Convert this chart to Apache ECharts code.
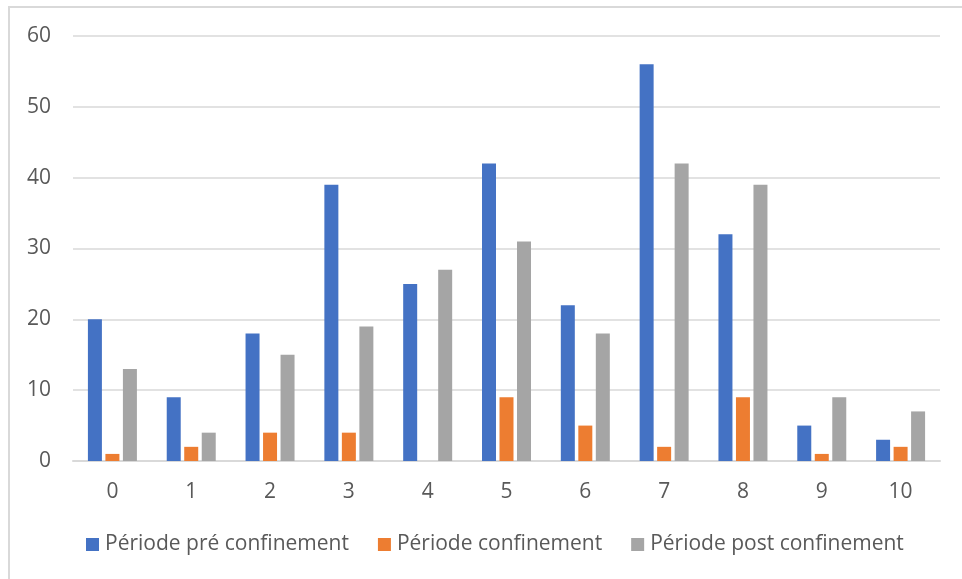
<!DOCTYPE html>
<html>
<head>
<meta charset="utf-8">
<script src="https://cdn.jsdelivr.net/npm/echarts@6/dist/echarts.min.js"></script>
<style>html,body{margin:0;padding:0;background:#fff}#c{width:962px;height:579px}</style>
</head>
<body>
<div id="c"></div>
<script>
const categories = ['0','1','2','3','4','5','6','7','8','9','10'];
const seriesNames = ['Période pré confinement','Période confinement','Période post confinement'];
const preValues = [20, 9, 18, 39, 25, 42, 22, 56, 32, 5, 3];
const confValues = [1, 2, 4, 4, 0, 9, 5, 2, 9, 1, 2];
const postValues = [13, 4, 15, 19, 27, 31, 18, 42, 39, 9, 7];
const colors = ['#4472C4', '#ED7D31', '#A5A5A5'];

const chart = echarts.init(document.getElementById('c'), null, {renderer: 'canvas'});
const font = '"Open Sans", sans-serif';
const mk = (name, data, color) => ({
  name, type: 'bar', data, barWidth: 14, barGap: '25%',
  itemStyle: {color}, emphasis: {disabled: true}
});
chart.setOption({
  animation: false,
  color: colors,
  textStyle: {fontFamily: font},
  grid: {left: 73, right: 22, top: 36, bottom: 118, containLabel: false},
  graphic: [{
    type: 'polyline', silent: true,
    shape: {points: [[9, 579], [9, 7], [962, 7]]},
    style: {stroke: '#d9d9d9', lineWidth: 2, fill: null}
  }],
  xAxis: {
    type: 'category', data: categories,
    axisLine: {show: true, lineStyle: {color: '#d9d9d9', width: 2}},
    axisTick: {show: false},
    axisLabel: {color: '#595959', fontSize: 21, fontFamily: font, margin: 21}
  },
  yAxis: {
    type: 'value', min: 0, max: 60, interval: 10,
    axisLine: {show: false}, axisTick: {show: false},
    splitLine: {lineStyle: {color: '#d9d9d9', width: 1.5}},
    axisLabel: {color: '#595959', fontSize: 21, fontFamily: font, margin: 22}
  },
  legend: {
    bottom: 19, left: 81,
    itemWidth: 13, itemHeight: 13, itemGap: 29,
    icon: 'rect',
    textStyle: {color: '#595959', fontSize: 21, fontFamily: font, padding: [0, 0, 0, 1]},
    data: seriesNames
  },
  series: [
    mk(seriesNames[0], preValues, colors[0]),
    mk(seriesNames[1], confValues, colors[1]),
    mk(seriesNames[2], postValues, colors[2])
  ]
});
</script>
</body>
</html>
